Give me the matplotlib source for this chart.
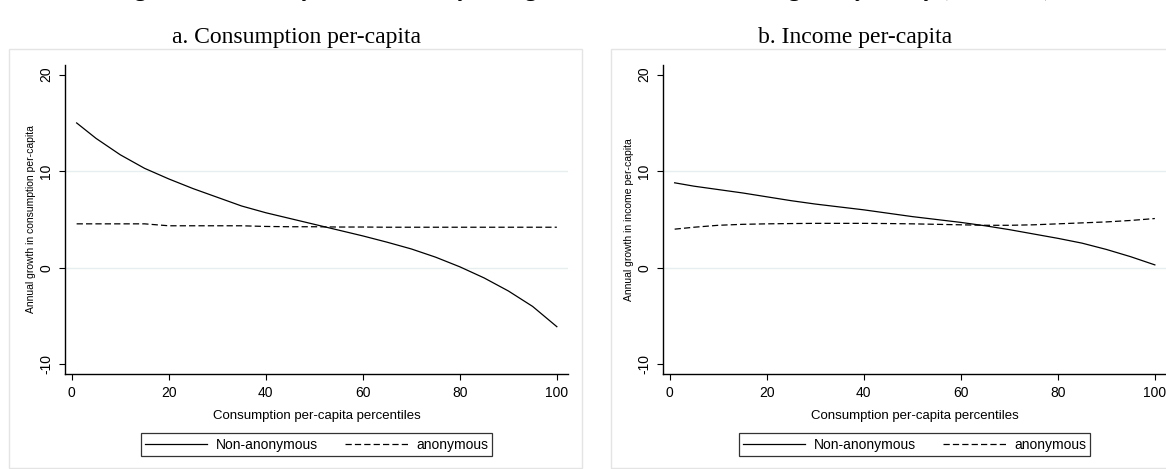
import matplotlib.pyplot as plt
from matplotlib.patches import Rectangle

# percentiles and growth rates
pct = [1, 5, 10, 15, 20, 25, 30, 35, 40, 45, 50, 55, 60, 65, 70, 75, 80, 85, 90, 95, 100]
cons_nonanon = [15.0, 13.4, 11.7, 10.3, 9.2, 8.2, 7.3, 6.4, 5.7, 5.1, 4.5, 3.9, 3.3, 2.65, 1.95, 1.1, 0.1, -1.05, -2.4, -4.0, -6.1]
cons_anon = [4.55, 4.55, 4.55, 4.55, 4.35, 4.35, 4.35, 4.35, 4.28, 4.25, 4.25, 4.22, 4.22, 4.2, 4.2, 4.2, 4.2, 4.2, 4.2, 4.2, 4.2]
inc_nonanon = [8.8, 8.45, 8.1, 7.75, 7.35, 6.95, 6.6, 6.3, 6.0, 5.65, 5.3, 5.0, 4.7, 4.35, 3.95, 3.5, 3.05, 2.55, 1.9, 1.15, 0.3]
inc_anon = [4.0, 4.2, 4.4, 4.5, 4.55, 4.58, 4.6, 4.6, 4.6, 4.58, 4.55, 4.5, 4.45, 4.4, 4.4, 4.45, 4.55, 4.65, 4.75, 4.9, 5.1]

titles = ["a. Consumption per-capita", "b. Income per-capita"]
ylabels = ["Annual growth in consumption per-capita", "Annual growth in income per-capita"]
xlabel = "Consumption per-capita percentiles"
yticks = [-10, 0, 10, 20]
xticks = [0, 20, 40, 60, 80, 100]

W, H = 1166, 469
fig = plt.figure(figsize=(W / 100, H / 100), dpi=100)
plt.rcParams['font.family'] = ['Liberation Sans', 'DejaVu Sans']


def px(x0, y0, x1, y1):
    # pixel box (top-left origin) -> figure fraction rect
    return [x0 / W, 1 - y1 / H, (x1 - x0) / W, (y1 - y0) / H]


# outer graph-region frames
for x0, x1 in [(9, 582), (611, 1172)]:
    fig.patches.append(Rectangle((x0 / W, 1 - 468 / H), (x1 - x0) / W, (468 - 49) / H,
                                 transform=fig.transFigure, fill=False,
                                 edgecolor='#e4e4e4', lw=1.0))

# figure title, cut off at the top edge like in the source page
fig.text(0.5, 1 + 4 / H, "Figure 5: Non-anonymous and anonymous growth incidence curves, Nigeria by survey (2010-2016)",
         ha='center', va='baseline', family='Liberation Serif', fontweight='bold', fontsize=16)

boxes = [px(65, 65, 568, 374), px(663, 65, 1166, 374)]
series = [(cons_nonanon, cons_anon), (inc_nonanon, inc_anon)]
title_x = [297, 855]

for i in range(2):
    ax = fig.add_axes(boxes[i])
    na, an = series[i]
    ax.plot(pct, na, color='black', lw=0.9, label='Non-anonymous')
    ax.plot(pct, an, color='black', lw=0.9, linestyle=(0, (5, 2.5)), label='anonymous')
    ax.set_xlim(-1.4, 102.3)
    ax.set_ylim(-11, 21)
    ax.set_xticks(xticks)
    ax.set_yticks(yticks)
    ax.set_yticklabels([str(t) for t in yticks], rotation=90, va='center')
    ax.tick_params(axis='both', length=4, width=0.8, labelsize=10, pad=4.5)
    for t in [0, 10]:
        ax.axhline(t, color='#e6eeef', lw=1.0, zorder=0)
    ax.spines['top'].set_visible(False)
    ax.spines['right'].set_visible(False)
    ax.spines['left'].set_linewidth(1.0)
    ax.spines['bottom'].set_linewidth(1.0)
    ax.set_xlabel(xlabel, fontsize=9.5, labelpad=7)
    ax.set_ylabel(ylabels[i], fontsize=7.5, labelpad=2)
    leg = ax.legend(loc='upper center', bbox_to_anchor=(0.5, -0.17), ncol=2, fontsize=10,
                    frameon=True, fancybox=False, edgecolor='black', handlelength=4.5,
                    columnspacing=2.0, borderpad=0.3, handletextpad=0.6)
    leg.get_frame().set_linewidth(0.9)
    fig.text(title_x[i] / W, 1 - 37 / H, titles[i], ha='center', va='center',
             family='Liberation Serif', fontsize=17)

fig.savefig('out.png', dpi=100)
